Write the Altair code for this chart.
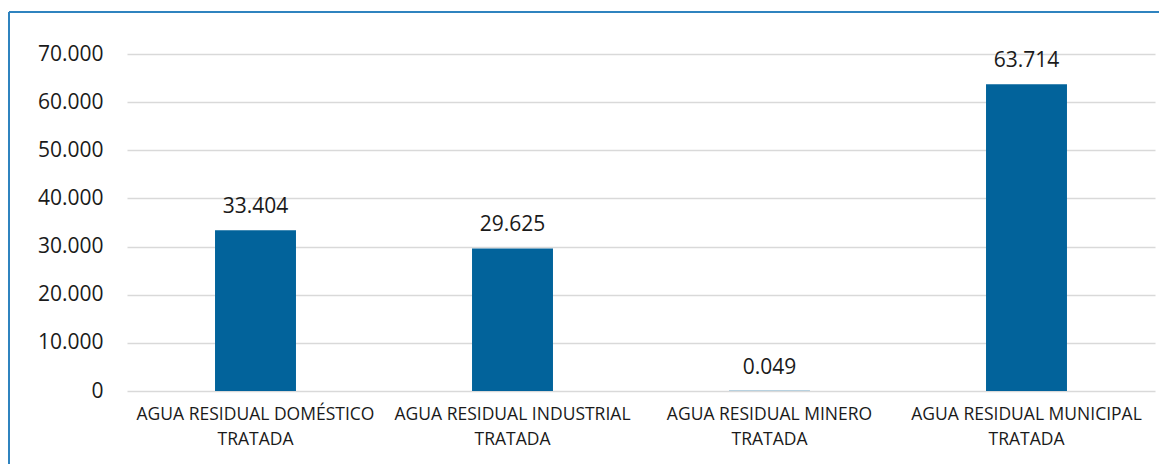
import altair as alt
import pandas as pd

categories = [
    "AGUA RESIDUAL DOMÉSTICO|TRATADA",
    "AGUA RESIDUAL INDUSTRIAL|TRATADA",
    "AGUA RESIDUAL MINERO|TRATADA",
    "AGUA RESIDUAL MUNICIPAL|TRATADA",
]
values = [33.404, 29.625, 0.049, 63.714]
value_labels = ["33.404", "29.625", "0.049", "63.714"]
y_ticks = [0, 10, 20, 30, 40, 50, 60, 70]

df = pd.DataFrame({"cat": categories, "val": values, "lbl": value_labels})

FONT = "Open Sans"
BAR = "#02639B"
TXT = "#1a1a1a"
FRAME = "#2f83bf"

x = alt.X(
    "cat:N",
    sort=categories,
    title=None,
    scale=alt.Scale(paddingInner=0.685, paddingOuter=0.3425),
    axis=alt.Axis(
        labelExpr="split(datum.label, '|')",
        labelAngle=0,
        labelFont=FONT,
        labelFontSize=17.5,
        labelColor=TXT,
        labelLineHeight=25,
        labelPadding=14,
        labelLimit=400,
        domain=False,
        ticks=False,
    ),
)
y = alt.Y(
    "val:Q",
    title=None,
    scale=alt.Scale(domain=[0, 70], nice=False),
    axis=alt.Axis(
        values=y_ticks,
        labelExpr="datum.value == 0 ? '0' : format(datum.value, '.3f')",
        labelFont=FONT,
        labelFontSize=21,
        labelColor=TXT,
        labelPadding=24,
        domain=False,
        ticks=False,
        gridColor="#d9d9d9",
        gridWidth=1.5,
    ),
)

base = alt.Chart(df)
bars = base.mark_bar(color=BAR).encode(x=x, y=y)
labels = base.mark_text(
    baseline="bottom", dy=-13, font=FONT, fontSize=21, color=TXT
).encode(x=alt.X("cat:N", sort=categories), y="val:Q", text="lbl:N")

frame_top = alt.Chart(df).mark_rule(color=FRAME, strokeWidth=2, clip=False).encode(
    x=alt.value(-118), x2=alt.value(1200), y=alt.value(-42)
)
frame_left = alt.Chart(df).mark_rule(color=FRAME, strokeWidth=2, clip=False).encode(
    x=alt.value(-118), y=alt.value(-42), y2=alt.value(480)
)

chart = (
    alt.layer(bars, labels, frame_top, frame_left)
    .properties(
        width=1028,
        height=337,
        autosize=alt.AutoSizeParams(type="none"),
        padding={"left": 119, "top": 46, "right": 4, "bottom": 73},
    )
    .configure_view(stroke=None)
)

chart.save("out.html", embed_options={"renderer": "svg", "actions": False})
